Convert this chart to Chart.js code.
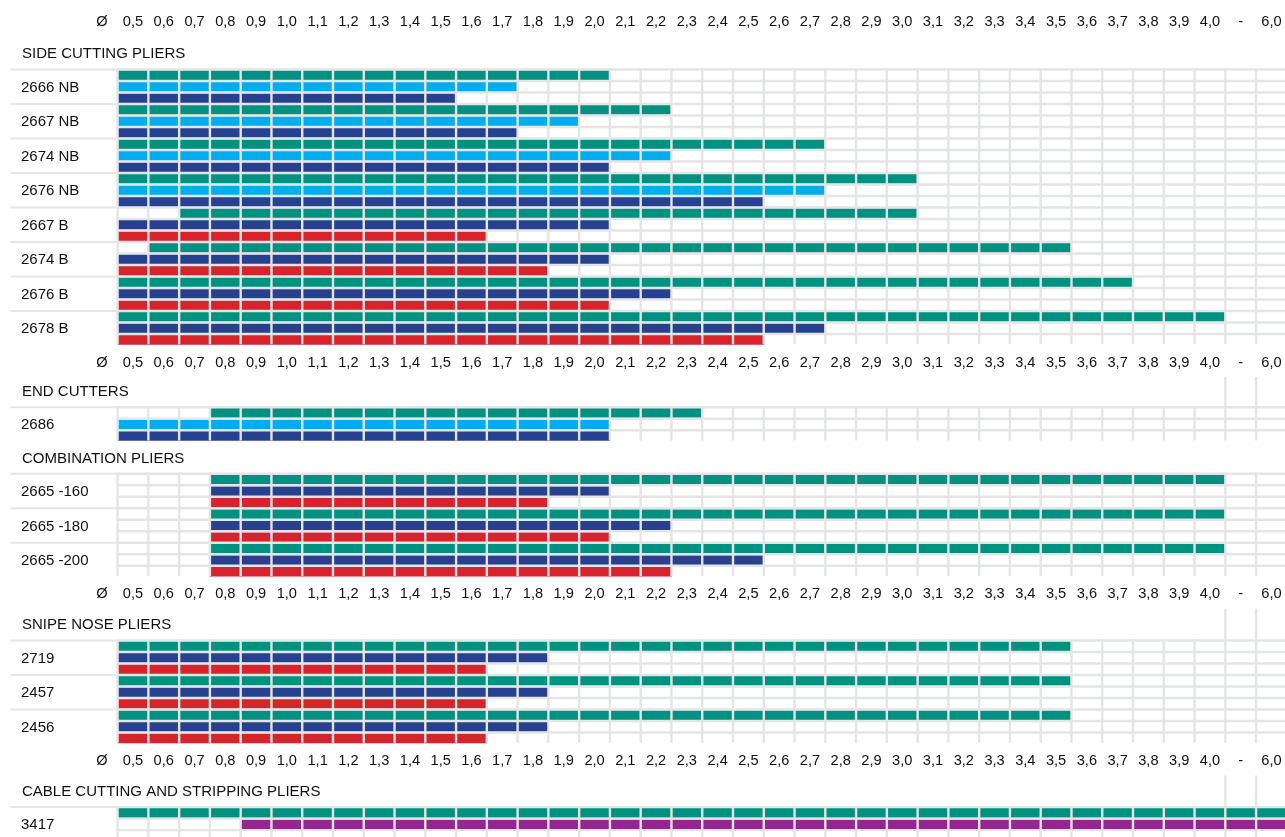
<!DOCTYPE html>
<html>
<head>
<meta charset="utf-8">
<script src="https://cdn.jsdelivr.net/npm/chart.js@4.4.1/dist/chart.umd.min.js"></script>
<style>
  html, body { margin: 0; padding: 0; background: #ffffff; overflow: hidden; }
  #wrap { width: 1285px; height: 837px; position: relative; }
</style>
</head>
<body>
<div id="wrap"><canvas id="c" width="1285" height="837"></canvas></div>
<script>
// ---------- DATA ----------
const tickLabels = ['0,5','0,6','0,7','0,8','0,9','1,0','1,1','1,2','1,3','1,4','1,5','1,6','1,7','1,8','1,9','2,0',
  '2,1','2,2','2,3','2,4','2,5','2,6','2,7','2,8','2,9','3,0','3,1','3,2','3,3','3,4','3,5','3,6','3,7','3,8','3,9','4,0','-','6,0'];
const diameterLabel = 'Ø';

const seriesKeys   = ['soft', 'medium', 'hard', 'piano', 'cable'];
const seriesNames  = ['Soft wire', 'Medium hard wire', 'Hard wire', 'Piano wire', 'Cable'];
const seriesColors = ['#009180', '#00aeef', '#27418f', '#d7232b', '#92278f'];

const sideTitle    = 'SIDE CUTTING PLIERS';
const sideProducts = ['2666 NB', '2667 NB', '2674 NB', '2676 NB', '2667 B', '2674 B', '2676 B', '2678 B'];
const sideSoft     = [[0.5,2.0],[0.5,2.2],[0.5,2.7],[0.5,3.0],[0.7,3.0],[0.6,3.5],[0.5,3.7],[0.5,4.0]];
const sideMedium   = [[0.5,1.7],[0.5,1.9],[0.5,2.2],[0.5,2.7],null,null,null,null];
const sideHard     = [[0.5,1.5],[0.5,1.7],[0.5,2.0],[0.5,2.5],[0.5,2.0],[0.5,2.0],[0.5,2.2],[0.5,2.7]];
const sidePiano    = [null,null,null,null,[0.5,1.6],[0.5,1.8],[0.5,2.0],[0.5,2.5]];

const endTitle     = 'END CUTTERS';
const endProducts  = ['2686'];
const endSoft      = [[0.8,2.3]];
const endMedium    = [[0.5,2.0]];
const endHard      = [[0.5,2.0]];

const combTitle    = 'COMBINATION PLIERS';
const combProducts = ['2665 -160', '2665 -180', '2665 -200'];
const combSoft     = [[0.8,4.0],[0.8,4.0],[0.8,4.0]];
const combHard     = [[0.8,2.0],[0.8,2.2],[0.8,2.5]];
const combPiano    = [[0.8,1.8],[0.8,2.0],[0.8,2.2]];

const snipeTitle    = 'SNIPE NOSE PLIERS';
const snipeProducts = ['2719', '2457', '2456'];
const snipeSoft     = [[0.5,3.5],[0.5,3.5],[0.5,3.5]];
const snipeHard     = [[0.5,1.8],[0.5,1.8],[0.5,1.8]];
const snipePiano    = [[0.5,1.6],[0.5,1.6],[0.5,1.6]];

const cableTitle    = 'CABLE CUTTING AND STRIPPING PLIERS';
const cableProducts = ['3417'];
const cableSoft     = [[0.5,6.0]];
const cableCable    = [[0.9,6.0]];

// ---------- LAYOUT (pixels) ----------
const W = 1285, H = 837;
const gridLeft = 117.6, colPx = 30.77, rowPx = 11.5, rowsPerProduct = 3, lineW = 2.4;
const topAxisY = 21.7, firstGridTop = 69.5;
const sectionGaps = [61.7, 32.1, 63.2, 63.1, 0];
const axisAfter   = [true, false, true, true, false];
const FONT_LABEL = '15px "Liberation Sans", Arial, Helvetica, sans-serif';
const FONT_TICK  = '14.6px "Liberation Sans", Arial, Helvetica, sans-serif';
const GRID = '#e4e5e7';
const TEXT = '#111111';

const sections = [
  { title: sideTitle,  products: sideProducts,  series: { soft: sideSoft, medium: sideMedium, hard: sideHard, piano: sidePiano } },
  { title: endTitle,   products: endProducts,   series: { soft: endSoft, medium: endMedium, hard: endHard } },
  { title: combTitle,  products: combProducts,  series: { soft: combSoft, hard: combHard, piano: combPiano } },
  { title: snipeTitle, products: snipeProducts, series: { soft: snipeSoft, hard: snipeHard, piano: snipePiano } },
  { title: cableTitle, products: cableProducts, series: { soft: cableSoft, cable: cableCable } }
];

function col(v) { return tickLabels.indexOf(v.toFixed(1).replace('.', ',')); }

// place sections vertically
let cursorY = firstGridTop;
sections.forEach((s, i) => {
  s.top = cursorY;
  s.bottom = cursorY + s.products.length * rowsPerProduct * rowPx;
  s.axisAfter = axisAfter[i];
  cursorY = s.bottom + sectionGaps[i];
});

// build datasets
const datasets = seriesKeys.map((k, i) => ({
  label: seriesNames[i],
  backgroundColor: seriesColors[i],
  borderWidth: 0,
  borderSkipped: false,
  grouped: false,
  barThickness: rowPx - lineW,
  data: []
}));
sections.forEach(s => {
  s.products.forEach((p, pi) => {
    const present = seriesKeys.filter(k => s.series[k] && s.series[k][pi]);
    present.forEach((k, r) => {
      const [a, b] = s.series[k][pi];
      const rowTop = s.top + (pi * rowsPerProduct + r) * rowPx;
      datasets[seriesKeys.indexOf(k)].data.push({ x: [col(a), col(b) + 1], y: rowTop + rowPx / 2 });
    });
  });
});

// ---------- PLUGIN: grid, separators, texts ----------
const gridPlugin = {
  id: 'cellGrid',
  beforeDraw(chart) {
    const ctx = chart.ctx;
    ctx.save(); ctx.fillStyle = '#ffffff'; ctx.fillRect(0, 0, chart.width, chart.height); ctx.restore();
  },
  afterDatasetsDraw(chart) {
    const ctx = chart.ctx, xs = chart.scales.x, ys = chart.scales.y;
    const nCols = tickLabels.length;
    ctx.save();
    sections.forEach((s, si) => {
      const nRows = s.products.length * rowsPerProduct;
      const yTop = ys.getPixelForValue(s.top), yBot = ys.getPixelForValue(s.bottom);
      ctx.strokeStyle = GRID;
      ctx.lineWidth = lineW;
      for (let r = 0; r < nRows; r++) {
        const y = ys.getPixelForValue(s.top + r * rowPx);
        ctx.beginPath(); ctx.moveTo(xs.getPixelForValue(0) - 1, y); ctx.lineTo(W, y); ctx.stroke();
      }
      for (let i = 0; i <= nCols; i++) {
        const x = xs.getPixelForValue(i);
        ctx.beginPath(); ctx.moveTo(x, yTop - 1.2); ctx.lineTo(x, yBot - 1.2); ctx.stroke();
      }
      ctx.lineWidth = 2;
      ctx.strokeStyle = '#e6e6e6';
      s.products.forEach((p, pi) => {
        const y = ys.getPixelForValue(s.top + pi * rowsPerProduct * rowPx);
        ctx.beginPath(); ctx.moveTo(10.5, y); ctx.lineTo(xs.getPixelForValue(0), y); ctx.stroke();
      });
      ctx.strokeStyle = GRID;
      if (s.axisAfter && si + 1 < sections.length) {
        const nxt = sections[si + 1];
        ctx.lineWidth = lineW;
        [nCols - 2, nCols - 1].forEach(i => {
          const x = xs.getPixelForValue(i);
          ctx.beginPath(); ctx.moveTo(x, ys.getPixelForValue(s.bottom + 31.5)); ctx.lineTo(x, ys.getPixelForValue(nxt.top)); ctx.stroke();
        });
      }
    });
    ctx.restore();

    ctx.save();
    ctx.fillStyle = TEXT;
    ctx.textBaseline = 'middle';
    const drawTickRow = (y) => {
      ctx.font = FONT_TICK;
      ctx.textAlign = 'center';
      ctx.fillText(diameterLabel, 102, y);
      tickLabels.forEach((t, i) => ctx.fillText(t, xs.getPixelForValue(i + 0.5), y));
    };
    drawTickRow(ys.getPixelForValue(topAxisY));
    sections.forEach(s => {
      ctx.font = FONT_LABEL;
      ctx.textAlign = 'left';
      ctx.fillText(s.title, 22, ys.getPixelForValue(s.top - 15.2));
      s.products.forEach((p, pi) => {
        ctx.fillText(p, 21, ys.getPixelForValue(s.top + pi * rowsPerProduct * rowPx + 18.1));
      });
      if (s.axisAfter) drawTickRow(ys.getPixelForValue(s.bottom + 17));
    });
    ctx.restore();
  }
};

// ---------- CHART ----------
new Chart(document.getElementById('c'), {
  type: 'bar',
  data: { datasets },
  options: {
    indexAxis: 'y',
    responsive: false,
    animation: false,
    layout: { padding: { left: gridLeft, right: 0, top: 0, bottom: 0 } },
    scales: {
      x: { type: 'linear', min: 0, max: (W - gridLeft) / colPx, display: false, offset: false },
      y: { type: 'linear', min: 0, max: H, reverse: true, display: false, offset: false }
    },
    plugins: { legend: { display: false }, tooltip: { enabled: false } }
  },
  plugins: [gridPlugin]
});
</script>
</body>
</html>
